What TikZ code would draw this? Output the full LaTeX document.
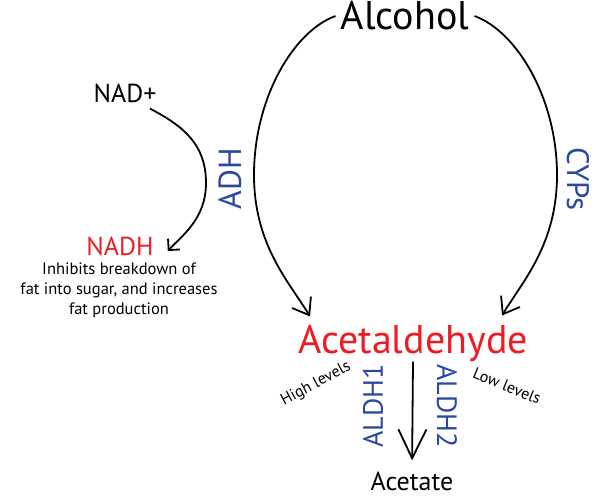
\documentclass[tikz,border=0pt]{standalone}
\usepackage{fontspec}
\setmainfont{PT Sans}
\usetikzlibrary{arrows.meta}
\definecolor{acred}{RGB}{237,28,36}
\definecolor{enzblue}{RGB}{43,72,160}

\begin{document}
\begin{tikzpicture}[x=1pt,y=1pt,
		chem/.style={inner sep=0pt,font=\fontsize{#1}{#1}\selectfont},
		enzyme/.style={chem=#1,text=enzblue},
		flow/.style={line width=1.8pt,-{Straight Barb[length=15pt,width=22pt]}},
		smallflow/.style={line width=1.8pt,-{Straight Barb[length=8pt,width=16pt]}},
		bigflow/.style={line width=1.8pt,-{Straight Barb[length=29pt,width=28pt]}}]
				\useasboundingbox (0,0) rectangle (596,501);
				\node[chem=40] (alcohol) at (405,485) {Alcohol};
				\node[chem=40,text=acred] (acet) at (413,158) {Acetaldehyde};
				\node[chem=26] (acetate) at (412,20) {Acetate};
				\node[chem=26] (nad) at (125,408) {NAD+};
				\node[chem=26,text=acred] (nadh) at (120,255) {NADH};
				\node[inner sep=0pt,align=center,font=\fontsize{16.5}{20}\selectfont] (note) at (119,211) {Inhibits breakdown of\\fat into sugar, and increases\\fat production};
				\node[enzyme=32,rotate=90] (adh) at (230,322) {ADH};
				\node[enzyme=31,rotate=-90] (cyps) at (578,322) {CYPs};
				\node[enzyme=28,rotate=90] (aldh1) at (373,95) {ALDH1};
				\node[enzyme=28,rotate=-90] (aldh2) at (447,95) {ALDH2};
				\node[chem=16,rotate=28] (high) at (316,117) {High levels};
				\node[chem=16,rotate=-22] (low) at (507,115) {Low levels};
				\draw[flow] ([xshift=-5]alcohol.west) to[out=200,in=90,out looseness=0.64,in looseness=1.1] (254,326)
					to[out=-90,in=121,out looseness=1.18,in looseness=0.67] ([shift={(-103,8)}]acet.north);
				\draw[flow] ([xshift=5]alcohol.east) to[out=-20,in=90,out looseness=0.64,in looseness=1.1] (557,326)
					to[out=-90,in=59,out looseness=1.18,in looseness=0.67] ([shift={(89,9)}]acet.north);
				\draw[smallflow] ([shift={(25,-6)}]nad.south) to[out=-28,in=90,out looseness=0.95,in looseness=1.12] (206,318)
					to[out=-90,in=48,out looseness=1.2,in looseness=0.65] ([shift={(14,-5)}]nadh.east);
				\draw[bigflow,shorten >=11pt] (acet.south) -- (acetate.north);
			\end{tikzpicture}
\end{document}
